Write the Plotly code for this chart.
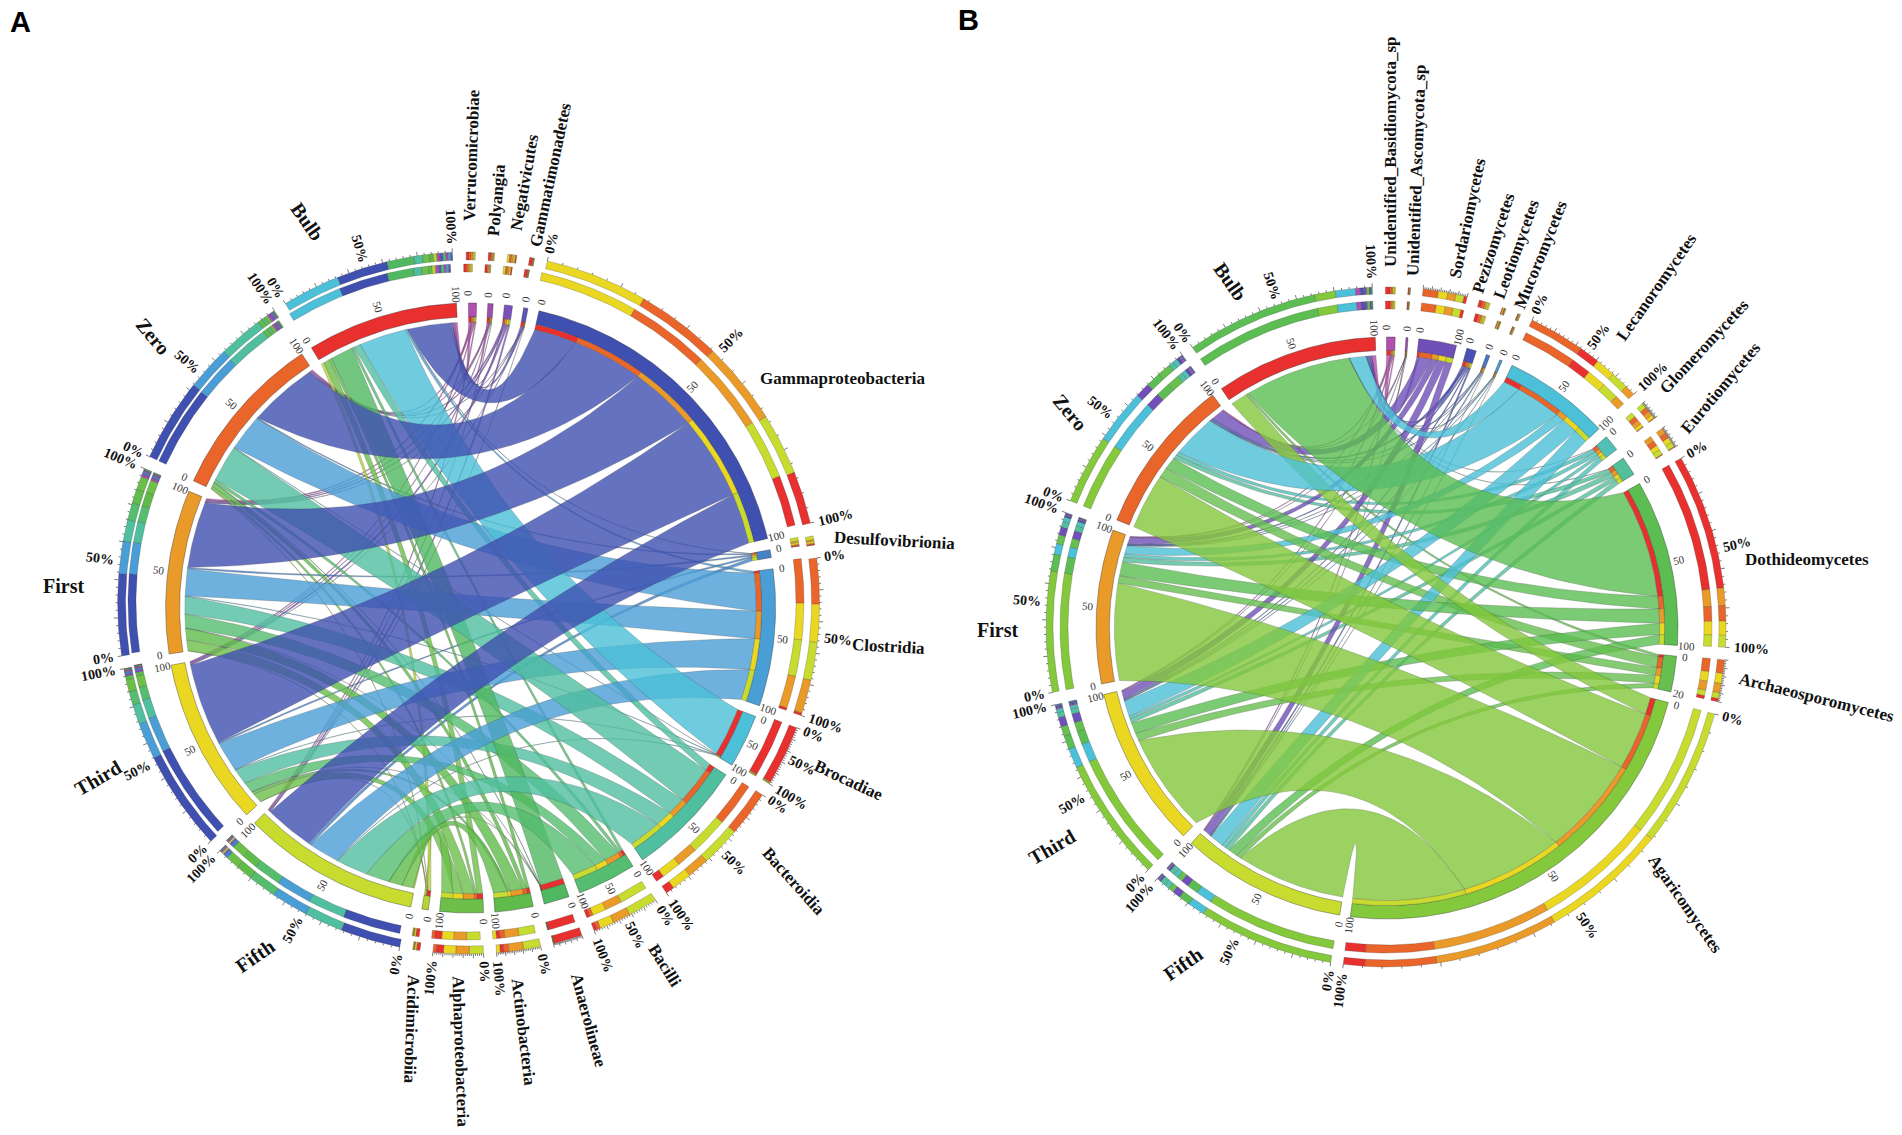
import math
import plotly.graph_objects as go

SAMPLES = ["Bulb", "Zero", "First", "Third", "Fifth"]
SAMPLE_COLORS = ["#e8312f", "#e9652a", "#ea9a28", "#e9d722", "#c8dc30"]

# ---- panel A values (abundance per class, columns = SAMPLES) ----
A_CLASSES = ["Verrucomicrobiae", "Polyangia", "Negativicutes", "Gammatimonadetes", "Gammaproteobacteria",
             "Desulfovibrionia", "Clostridia", "Brocadiae", "Bacteroidia", "Bacilli", "Anaerolineae",
             "Actinobacteria", "Alphaproteobacteria", "Acidimicrobiia"]
A_COLORS = ["#b24fb0", "#a04fb0", "#7b52bd", "#5b55bb", "#3f50b0", "#4682c8", "#4a9ed6", "#4cc0d8",
            "#4fbf9f", "#55bd70", "#50b860", "#5fbb4a", "#6cc04a", "#b5d534"]
A_VERRUCO = [0.5, 0.3, 0.3, 0.2, 0.2]
A_POLYANG = [0.4, 0.2, 0.2, 0.1, 0.1]
A_NEGATIV = [0.2, 0.3, 0.3, 0.4, 0.3]
A_GAMMATI = [0.5, 0.1, 0.1, 0.05, 0.05]
A_GAMMAPR = [8.6, 14.0, 13.7, 16.8, 10.1]
A_DESULFO = [0.1, 0.2, 0.3, 0.3, 0.6]
A_CLOSTRI = [0.4, 7.5, 5.5, 6.2, 6.2]
A_BROCADI = [9.7, 0.1, 0.1, 0.1, 0.1]
A_BACTERO = [1.4, 7.5, 3.6, 3.3, 6.5]
A_BACILLI = [0.5, 0.6, 2.9, 2.3, 4.8]
A_ANAEROL = [4.6, 0.1, 0.03, 0.03, 0.04]
A_ACTINOB = [0.6, 0.8, 2.4, 0.6, 2.8]
A_ALPHAPR = [1.2, 0.5, 2.2, 2.0, 2.3]
A_ACIDIMI = [0.6, 0.1, 0.1, 0.1, 0.3]
A_MATRIX = [A_VERRUCO, A_POLYANG, A_NEGATIV, A_GAMMATI, A_GAMMAPR, A_DESULFO, A_CLOSTRI, A_BROCADI,
            A_BACTERO, A_BACILLI, A_ANAEROL, A_ACTINOB, A_ALPHAPR, A_ACIDIMI]
A_RING_FULL = ["Gammaproteobacteria", "Clostridia", "Brocadiae", "Bacteroidia", "Bacilli"]
A_RING_ENDS = ["Actinobacteria", "Alphaproteobacteria"]

# ---- panel B values ----
B_CLASSES = ["Unidentified_Basidiomycota_sp", "Unidentified_Ascomycota_sp", "Sordariomycetes", "Pezizomycetes",
             "Leotiomycetes", "Mucoromycetes", "Lecanoromycetes", "Glomeromycetes", "Eurotiomycetes",
             "Dothideomycetes", "Archaeosporomycetes", "Agaricomycetes"]
B_COLORS = ["#b24fb0", "#9a4fb0", "#6f4fb8", "#4a50b5", "#4a78c5", "#4a9ed6", "#4cc0d8", "#50c0b8",
            "#54bf9c", "#5bbd52", "#66bf4e", "#84c83c"]
B_BASIDIO = [0.8, 0.3, 0.2, 0.2, 0.2]
B_ASCOMYC = [0.1, 0.1, 0.05, 0.1, 0.05]
B_SORDARI = [0.5, 2.6, 1.4, 1.6, 1.4]
B_PEZIZOM = [0.6, 0.5, 0.3, 0.2, 0.3]
B_LEOTIOM = [0.1, 0.2, 0.1, 0.2, 0.1]
B_MUCOROM = [0.1, 0.1, 0.1, 0.1, 0.1]
B_LECANOR = [3.5, 9.5, 1.8, 3.4, 3.0]
B_GLOMERO = [0.1, 0.8, 0.8, 0.6, 0.9]
B_EUROTIO = [0.1, 0.9, 1.0, 0.9, 0.9]
B_DOTHIDE = [23.0, 2.6, 3.0, 2.4, 2.0]
B_ARCHAEO = [0.5, 2.3, 1.6, 1.7, 1.0]
B_AGARICO = [3.6, 12.1, 21.0, 21.6, 23.6]
B_MATRIX = [B_BASIDIO, B_ASCOMYC, B_SORDARI, B_PEZIZOM, B_LEOTIOM, B_MUCOROM, B_LECANOR, B_GLOMERO,
            B_EUROTIO, B_DOTHIDE, B_ARCHAEO, B_AGARICO]
B_RING_FULL = ["Lecanoromycetes", "Dothideomycetes", "Agaricomycetes"]
B_RING_ENDS = []

# ---- text placement (page pixels, rotation) ----
A_NAME_TEXT = [("Verrucomicrobiae", 471, 155, -88), ("Polyangia", 496, 200, -85), ("Negativicutes", 524, 182, -80),
               ("Gammatimonadetes", 550, 175, -78), ("Gammaproteobacteria", 842, 378, 0),
               ("Desulfovibrionia", 894, 540, 3), ("Clostridia", 888, 646, 3), ("Brocadiae", 849, 780, 25),
               ("Bacteroidia", 794, 881, 48), ("Bacilli", 665, 965, 58), ("Anaerolineae", 589, 1020, 75),
               ("Actinobacteria", 524, 1032, 83), ("Alphaproteobacteria", 461, 1051, 88),
               ("Acidimicrobiia", 412, 1029, 92), ("Bulb", 307, 221, 55), ("Zero", 153, 336, 50),
               ("First", 63, 586, 0), ("Third", 98, 778, -30), ("Fifth", 255, 956, -35)]
B_NAME_TEXT = [("Unidentified_Basidiomycota_sp", 1390, 152, -90), ("Unidentified_Ascomycota_sp", 1416, 170, -88),
               ("Sordariomycetes", 1467, 218, -78), ("Pezizomycetes", 1493, 243, -72),
               ("Leotiomycetes", 1516, 249, -70), ("Mucoromycetes", 1540, 255, -68),
               ("Lecanoromycetes", 1656, 287, -55), ("Glomeromycetes", 1704, 346, -47),
               ("Eurotiomycetes", 1720, 388, -50), ("Dothideomycetes", 1807, 559, 0),
               ("Archaeosporomycetes", 1816, 697, 14), ("Agaricomycetes", 1686, 904, 55),
               ("Bulb", 1230, 281, 55), ("Zero", 1070, 412, 50), ("First", 997, 630, 0),
               ("Third", 1052, 847, -30), ("Fifth", 1183, 964, -35)]

SERIF = "Liberation Serif"
GAP = 2.13
fig = go.Figure()
notes = []


def pt(cx, cy, r, deg):
    a = math.radians(deg)
    return cx + r * math.sin(a), cy - r * math.cos(a)


def arc(cx, cy, r, a0, a1):
    n = max(2, int(abs(a1 - a0) / 0.7) + 2)
    return [pt(cx, cy, r, a0 + (a1 - a0) * i / (n - 1)) for i in range(n)]


def poly(points, color, line="rgba(40,40,40,0.75)", width=0.5, opacity=1.0):
    fig.add_trace(go.Scatter(x=[p[0] for p in points] + [points[0][0]], y=[p[1] for p in points] + [points[0][1]],
                             mode="lines", fill="toself", fillcolor=color, opacity=opacity,
                             line=dict(color=line, width=width), hoverinfo="skip", showlegend=False))


def band(cx, cy, r0, r1, a0, a1, color, **kw):
    poly(arc(cx, cy, r1, a0, a1) + arc(cx, cy, r0, a1, a0), color, **kw)


def bez(cx, cy, r, a, b):
    d = abs(a - b) % 360
    d = min(d, 360 - d)
    mid = math.atan2(math.sin(math.radians(a)) + math.sin(math.radians(b)),
                     math.cos(math.radians(a)) + math.cos(math.radians(b)))
    c = 0.6 * (1 - d / 180) * r
    p0, p2 = pt(cx, cy, r, a), pt(cx, cy, r, b)
    p1 = (cx + c * math.sin(mid), cy - c * math.cos(mid))
    out = []
    for i in range(1, 40):
        t = i / 40
        out.append(((1 - t) ** 2 * p0[0] + 2 * t * (1 - t) * p1[0] + t * t * p2[0],
                    (1 - t) ** 2 * p0[1] + 2 * t * (1 - t) * p1[1] + t * t * p2[1]))
    return out


def rot(deg):
    d = (deg + 180) % 360 - 180
    return d - 90 if d >= 0 else d + 90


def note(x, y, s, angle, size, bold=False, color="#111"):
    txt = f"<b>{s}</b>" if bold else s
    notes.append(dict(x=x, y=y, xref="x", yref="y", text=txt, showarrow=False, textangle=angle,
                      font=dict(family=SERIF, size=size, color=color), xanchor="center", yanchor="middle"))


def panel(cx, cy, R, start, class_span, sample_span, ring_outer, ring_inner, classes, class_colors, matrix,
          ring_full, ring_ends, name_text, end_labels):
    rows, cols = len(classes), len(SAMPLES)
    row_tot = [sum(r) for r in matrix]
    col_tot = [sum(matrix[i][j] for i in range(rows)) for j in range(cols)]
    unit_c = class_span / sum(row_tot)
    unit_s = sample_span / sum(col_tot)
    sectors = {}
    a = start
    for i in range(rows):
        w = row_tot[i] * unit_c
        sectors[("c", i)] = (a, a + w)
        a += w + GAP
    for j in reversed(range(cols)):
        w = col_tot[j] * unit_s
        sectors[("s", j)] = (a, a + w)
        a += w + GAP

    r_chord, r_stack = R * 0.937, R * 0.954
    class_pos = {i: sectors[("c", i)][0] for i in range(rows)}
    sample_pos = {j: sectors[("s", j)][0] for j in range(cols)}
    cells = {}
    for i in range(rows):
        for j in range(cols):  # class sector, clockwise: Bulb .. Fifth
            w = matrix[i][j] * unit_c
            cells[(i, j, "c")] = (class_pos[i], class_pos[i] + w)
            class_pos[i] += w
    for j in range(cols):
        for i in reversed(range(rows)):  # sample sector, clockwise: last class .. first class
            w = matrix[i][j] * unit_s
            cells[(i, j, "s")] = (sample_pos[j], sample_pos[j] + w)
            sample_pos[j] += w
    ribbons = [(matrix[i][j], i, j) for i in range(rows) for j in range(cols)]
    for v, i, j in sorted(ribbons):
        a0, a1 = cells[(i, j, "s")]
        b0, b1 = cells[(i, j, "c")]
        pts = arc(cx, cy, r_chord, a0, a1) + bez(cx, cy, r_chord, a1, b0) + arc(cx, cy, r_chord, b0, b1) \
            + bez(cx, cy, r_chord, b1, a0)
        poly(pts, class_colors[i], line="rgba(50,50,50,0.55)", width=0.5, opacity=0.8)

    # tracks
    for (kind, k), (a0, a1) in sectors.items():
        color = class_colors[k] if kind == "c" else SAMPLE_COLORS[k]
        band(cx, cy, R * 0.954, R, a0, a1, color)
    for i in range(rows):
        for j in range(cols):
            b0, b1 = cells[(i, j, "c")]
            band(cx, cy, r_chord, r_stack, b0, b1, SAMPLE_COLORS[j], width=0.3)

    # two outer rings, segments sorted by share
    ox, oy, or0, or1 = ring_outer
    ix, iy, ir0, ir1 = ring_inner
    tx, ty = [], []
    for (kind, k), (a0, a1) in sectors.items():
        if kind == "c":
            parts = sorted([(matrix[k][j], SAMPLE_COLORS[j]) for j in range(cols)], key=lambda p: -p[0])
            tot = row_tot[k]
        else:
            parts = sorted([(matrix[i][k], class_colors[i]) for i in range(rows)], key=lambda p: -p[0])
            tot = col_tot[k]
        pos = a0
        for v, col in parts:
            w = v / tot * (a1 - a0)
            band(cx + ix, cy + iy, ir0, ir1, pos, pos + w, col, width=0.3)
            band(cx + ox, cy + oy, or0, or1, pos, pos + w, col, width=0.3)
            pos += w
        if a1 - a0 >= 3:
            for t in range(0, 101, 4):
                ang = a0 + (a1 - a0) * t / 100
                major = t % 20 == 0
                p = pt(cx + ox, cy + oy, or1, ang)
                q = pt(cx + ox, cy + oy, or1 + (4 if major else 2), ang)
                tx += [p[0], q[0], None]
                ty += [p[1], q[1], None]
    fig.add_trace(go.Scatter(x=tx, y=ty, mode="lines", line=dict(color="#222", width=0.6),
                             hoverinfo="skip", showlegend=False))

    # small axis labels on the track, bold percent labels on the ring
    for (kind, k), (a0, a1) in sectors.items():
        name = classes[k] if kind == "c" else SAMPLES[k]
        w = a1 - a0
        marks = [(0, "0")]
        if w >= 7:
            marks.append((100, end_labels.get(name, "100")))
        elif name in end_labels:
            marks.append((100, end_labels[name]))
        if w >= 9:
            marks.append((50, "50"))
        for t, s in marks:
            ang = a0 + w * t / 100
            x, y = pt(cx, cy, R * 1.03, ang)
            note(x, y, s, rot(ang), 11, color="#333")
        pct = []
        if kind == "s" or name in ring_full:
            pct = [(0, "0%"), (50, "50%"), (100, "100%")]
        elif name in ring_ends:
            pct = [(0, "0%"), (100, "100%")]
        for t, s in pct:
            ang = a0 + w * t / 100
            off = or1 + (18 if s == "0%" else 20 if s == "50%" else 26)
            x, y = pt(cx + ox, cy + oy, off, ang)
            note(x, y, s, rot(ang), 14, bold=True)
    for name, x, y, angle in name_text:
        note(x, y, name, angle, 20 if name in SAMPLES else 17, bold=True)


panel(470.6, 608, 305, -0.4, 161.9, 157.5, (-2, -5, 343, 351), (-4.6, -6, 330, 338),
      A_CLASSES, A_COLORS, A_MATRIX, A_RING_FULL, A_RING_ENDS, A_NAME_TEXT, {})
panel(1387, 628, 291, -0.1, 163.9, 159.8, (-1, -1, 333, 340), (-1, -1, 318, 326),
      B_CLASSES, B_COLORS, B_MATRIX, B_RING_FULL, B_RING_ENDS, B_NAME_TEXT, {"Archaeosporomycetes": "20"})

for s, x, y in [("A", 20, 22), ("B", 968, 20)]:
    notes.append(dict(x=x, y=y, xref="x", yref="y", text=f"<b>{s}</b>", showarrow=False,
                      font=dict(family="Liberation Sans", size=29, color="#000")))

fig.update_layout(width=1902, height=1135, margin=dict(l=0, r=0, t=0, b=0), paper_bgcolor="white",
                  plot_bgcolor="white", showlegend=False, annotations=notes,
                  xaxis=dict(range=[0, 1902], visible=False, fixedrange=True),
                  yaxis=dict(range=[1135, 0], visible=False, fixedrange=True))
fig.write_html("out.html", config={"displayModeBar": False},
               post_script="document.body.style.margin='0';document.body.style.overflow='hidden';")
